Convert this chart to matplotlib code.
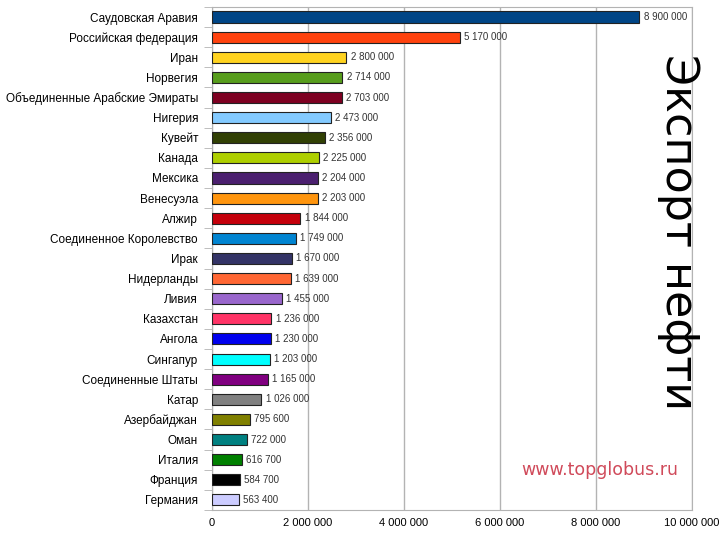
import numpy as np
import matplotlib.pyplot as plt

plt.rcParams['font.family'] = ['Liberation Sans', 'DejaVu Sans']

countries = ['Саудовская Аравия', 'Российская федерация', 'Иран', 'Норвегия',
             'Объединенные Арабские Эмираты', 'Нигерия', 'Кувейт', 'Канада',
             'Мексика', 'Венесуэла', 'Алжир', 'Соединенное Королевство', 'Ирак',
             'Нидерланды', 'Ливия', 'Казахстан', 'Ангола', 'Сингапур',
             'Соединенные Штаты', 'Катар', 'Азербайджан', 'Оман', 'Италия',
             'Франция', 'Германия']
exports = [8900000, 5170000, 2800000, 2714000, 2703000, 2473000, 2356000,
           2225000, 2204000, 2203000, 1844000, 1749000, 1670000, 1639000,
           1455000, 1236000, 1230000, 1203000, 1165000, 1026000, 795600,
           722000, 616700, 584700, 563400]
colors = ['#004586', '#ff420e', '#ffd320', '#579d1c', '#7e0021', '#83caff',
          '#314004', '#aecf00', '#4b1f6f', '#ff950e', '#c5000b', '#0084d1',
          '#333366', '#ff6633', '#9966cc', '#ff3366', '#0000ee', '#00ffff',
          '#800080', '#808080', '#808000', '#008080', '#008000', '#000000',
          '#ccccff']
xticks = [0, 2000000, 4000000, 6000000, 8000000, 10000000]


def fmt(v):
    return '{:,}'.format(v).replace(',', ' ')


fig = plt.figure(figsize=(7.2, 5.4), dpi=100)
ax = fig.add_axes([0.2944, 0.0556, 0.6667, 0.9315])

y = np.arange(len(countries))
ax.barh(y, exports, height=0.55, color=colors, edgecolor='#222222',
        linewidth=0.8, zorder=3)
for yi, v in zip(y, exports):
    ax.text(v + 90000, yi, fmt(v), va='center', ha='left', fontsize=7,
            color='#333333', zorder=4)

ax.set_ylim(len(countries) - 0.5, -0.5)
ax.set_xlim(0, 10000000)
ax.set_yticks(y)
ax.set_yticklabels(countries, fontsize=8.5)
ax.tick_params(axis='y', length=0, pad=10)
ax.set_yticks(np.arange(len(countries) + 1) - 0.5, minor=True)
ax.tick_params(axis='y', which='minor', length=6, color='#b3b3b3')
ax.set_xticks(xticks)
ax.set_xticklabels([fmt(t) for t in xticks], fontsize=8)
ax.tick_params(axis='x', length=0, pad=6)
ax.xaxis.grid(True, color='#b3b3b3', linewidth=1, zorder=0)
for s in ax.spines.values():
    s.set_color('#b3b3b3')

fig.text(0.943, 0.57, 'Экспорт нефти', rotation=-90, fontsize=32,
         family='DejaVu Sans', ha='center', va='center', color='black')
fig.text(0.833, 0.13, 'www.topglobus.ru', fontsize=12.5, family='DejaVu Sans',
         color='#d04a5a', ha='center', va='center')

fig.savefig('out.png', dpi=100)
